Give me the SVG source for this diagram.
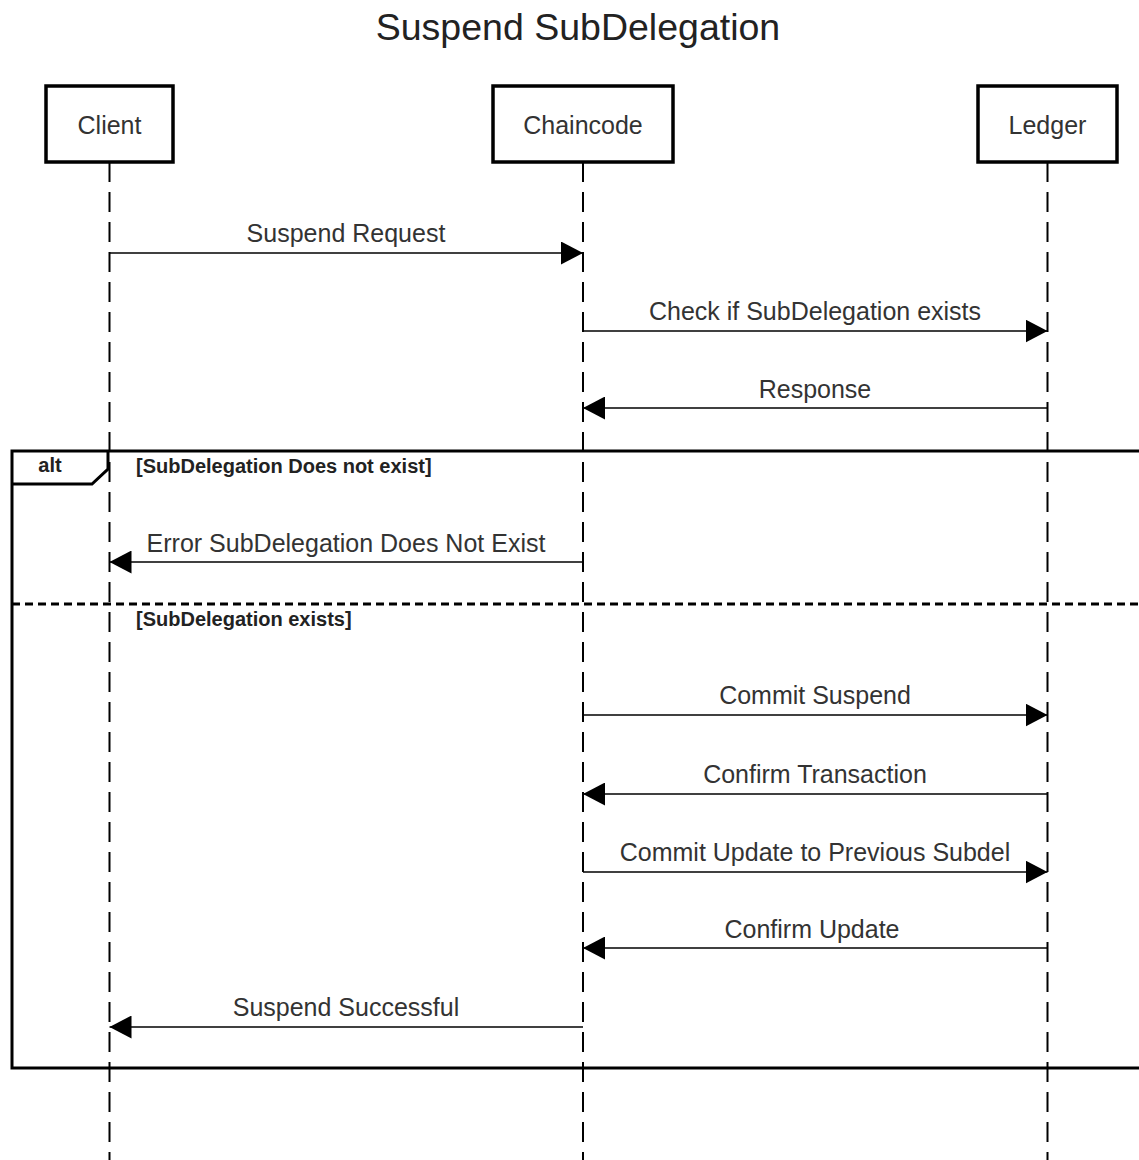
<svg xmlns="http://www.w3.org/2000/svg" width="1139" height="1160" viewBox="0 0 1139 1160">
  <defs>
    <style>
      .title { font-family: "Liberation Sans", Arial, sans-serif; font-size: 37.5px; fill: #222; text-anchor: middle; }
      .actor rect { fill: #fff; stroke: #000; stroke-width: 3.5; }
      .actor text { font-family: "Liberation Sans", Arial, sans-serif; font-size: 25px; fill: #333; text-anchor: middle; }
      .lifeline { stroke: #000; stroke-width: 2; stroke-dasharray: 20 10; fill: none; }
      .msg line { stroke: #000; stroke-width: 1.6; marker-end: url(#head); }
      .msg text { font-family: "Liberation Sans", Arial, sans-serif; font-size: 25px; fill: #333; text-anchor: middle; }
      .frame { fill: none; stroke: #000; stroke-width: 3; }
      .divider { stroke: #000; stroke-width: 3; stroke-dasharray: 8 5; }
      .guard { font-family: "Liberation Sans", Arial, sans-serif; font-size: 20px; font-weight: bold; fill: #222; }
    </style>
    <marker id="head" markerWidth="22" markerHeight="23" refX="22" refY="11.5" orient="auto" markerUnits="userSpaceOnUse">
      <path d="M0,0 L22,11.5 L0,23 Z" fill="#000"/>
    </marker>
  </defs>

  <rect width="1139" height="1160" fill="#fff"/>

  <text class="title" x="578" y="40">Suspend SubDelegation</text>

  <!-- lifelines -->
  <g id="lifelines">
    <line class="lifeline" x1="109.5" y1="162" x2="109.5" y2="1160"/>
    <line class="lifeline" x1="583" y1="162" x2="583" y2="1160"/>
    <line class="lifeline" x1="1047.5" y1="162" x2="1047.5" y2="1160"/>
  </g>

  <!-- participants -->
  <g id="client" class="actor">
    <rect x="46" y="86" width="127" height="76"/>
    <text x="109.5" y="134">Client</text>
  </g>
  <g id="chaincode" class="actor">
    <rect x="493" y="86" width="180" height="76"/>
    <text x="583" y="134">Chaincode</text>
  </g>
  <g id="ledger" class="actor">
    <rect x="978" y="86" width="139" height="76"/>
    <text x="1047.5" y="134">Ledger</text>
  </g>

  <!-- alt combined fragment -->
  <g id="alt-fragment">
    <rect class="frame" x="12" y="451" width="1140" height="617"/>
    <path class="frame" d="M12,484 L92,484 L108,469 L108,451"/>
    <text class="guard" x="50" y="472" text-anchor="middle">alt</text>
    <text class="guard" x="136" y="473">[SubDelegation Does not exist]</text>
    <line class="divider" x1="12" y1="604" x2="1139" y2="604"/>
    <text class="guard" x="136" y="626">[SubDelegation exists]</text>
  </g>

  <!-- messages -->
  <g id="messages">
    <g class="msg">
      <line x1="109.5" y1="253" x2="583" y2="253"/>
      <text x="346" y="242">Suspend Request</text>
    </g>
    <g class="msg">
      <line x1="583" y1="331" x2="1047.5" y2="331"/>
      <text x="815" y="320">Check if SubDelegation exists</text>
    </g>
    <g class="msg">
      <line x1="1047.5" y1="408" x2="583" y2="408"/>
      <text x="815" y="398">Response</text>
    </g>
    <g class="msg">
      <line x1="583" y1="562" x2="109.5" y2="562"/>
      <text x="346" y="552">Error SubDelegation Does Not Exist</text>
    </g>
    <g class="msg">
      <line x1="583" y1="715" x2="1047.5" y2="715"/>
      <text x="815" y="704">Commit Suspend</text>
    </g>
    <g class="msg">
      <line x1="1047.5" y1="794" x2="583" y2="794"/>
      <text x="815" y="783">Confirm Transaction</text>
    </g>
    <g class="msg">
      <line x1="583" y1="872" x2="1047.5" y2="872"/>
      <text x="815" y="861">Commit Update to Previous Subdel</text>
    </g>
    <g class="msg">
      <line x1="1047.5" y1="948" x2="583" y2="948"/>
      <text x="812" y="938">Confirm Update</text>
    </g>
    <g class="msg">
      <line x1="583" y1="1027" x2="109.5" y2="1027"/>
      <text x="346" y="1016">Suspend Successful</text>
    </g>
  </g>
</svg>
